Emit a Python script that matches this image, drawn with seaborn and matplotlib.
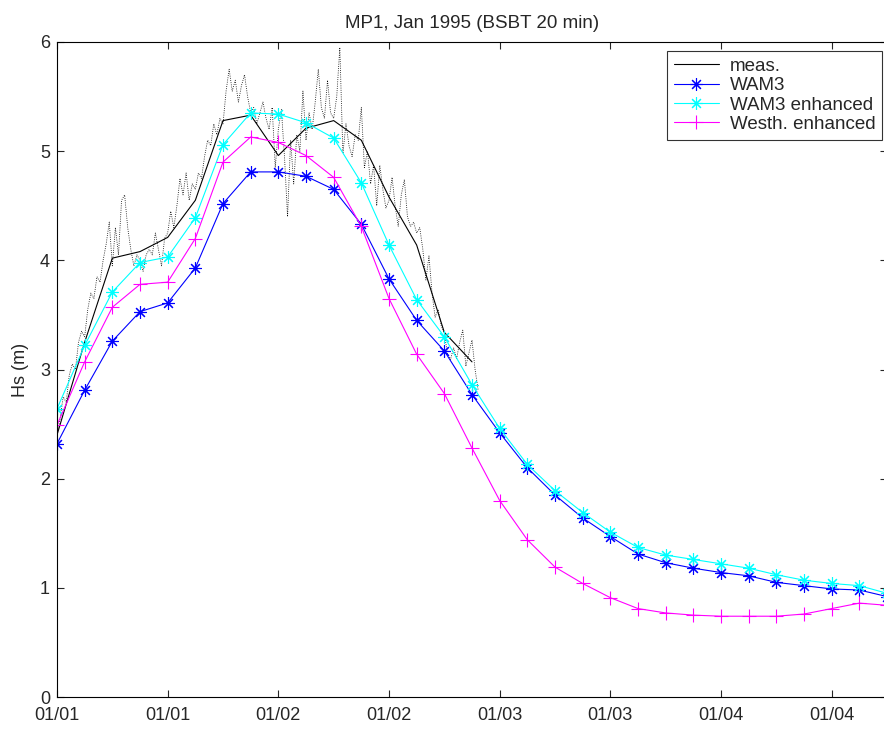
import matplotlib
matplotlib.use('Agg')
import matplotlib.pyplot as plt
import seaborn as sns

# horas desde 01/01 00:00, modelos cada 3 h
horas_modelo = list(range(0, 91, 3))
wam3 = [2.32, 2.81, 3.26, 3.53, 3.61, 3.93, 4.52, 4.81, 4.81, 4.77, 4.65,
        4.33, 3.83, 3.45, 3.17, 2.77, 2.42, 2.10, 1.85, 1.64, 1.47, 1.31,
        1.23, 1.18, 1.14, 1.11, 1.05, 1.02, 0.99, 0.98, 0.92]
wam3_enh = [2.64, 3.22, 3.71, 3.98, 4.03, 4.39, 5.06, 5.35, 5.34, 5.26, 5.12,
            4.71, 4.14, 3.64, 3.30, 2.86, 2.46, 2.13, 1.89, 1.69, 1.51, 1.37,
            1.30, 1.26, 1.22, 1.18, 1.12, 1.07, 1.04, 1.02, 0.95]
westh_enh = [2.49, 3.07, 3.57, 3.78, 3.80, 4.20, 4.90, 5.13, 5.08, 4.96, 4.76,
             4.31, 3.65, 3.14, 2.78, 2.28, 1.80, 1.44, 1.19, 1.04, 0.91, 0.81,
             0.77, 0.75, 0.74, 0.74, 0.74, 0.76, 0.81, 0.86, 0.84]

# medicion promediada cada 3 h
horas_meas = list(range(0, 46, 3))
meas = [2.40, 3.25, 4.02, 4.08, 4.21, 4.55, 5.28, 5.33, 4.96, 5.21, 5.28,
        5.10, 4.58, 4.14, 3.34, 3.07]

# medicion cruda cada 20 min
meas_20min = [2.40, 2.55, 2.75, 2.70, 2.95, 3.05, 3.00, 3.25, 3.35, 3.30,
              3.55, 3.70, 3.65, 3.85, 3.80, 4.00, 4.15, 4.35, 3.95, 4.30,
              4.05, 4.55, 4.60, 4.30, 4.10, 3.95, 4.05, 4.00, 3.90, 4.05,
              4.10, 4.05, 4.25, 4.10, 3.95, 4.20, 4.25, 4.45, 4.30, 4.50,
              4.75, 4.60, 4.80, 4.55, 4.70, 4.65, 4.80, 4.75, 4.95, 5.10,
              5.05, 5.25, 5.15, 5.30, 5.25, 5.55, 5.75, 5.55, 5.65, 5.45,
              5.60, 5.70, 5.50, 5.35, 5.40, 5.25, 5.35, 5.45, 5.30, 5.20,
              5.40, 4.85, 5.20, 5.38, 4.95, 4.40, 5.10, 4.70, 5.15, 5.00,
              5.55, 5.10, 5.35, 5.20, 5.45, 5.75, 5.40, 5.30, 5.65, 5.35,
              5.30, 5.50, 5.95, 4.98, 5.25, 5.05, 4.95, 5.15, 5.10, 5.40,
              4.85, 5.00, 4.70, 4.87, 4.50, 4.87, 4.65, 4.48, 4.55, 4.76,
              4.50, 4.31, 4.60, 4.74, 4.40, 4.31, 4.35, 4.25, 4.30, 4.10,
              3.82, 4.04, 3.70, 3.48, 3.55, 3.40, 3.33, 3.15, 3.09, 3.20,
              3.10, 3.25, 3.36, 3.03, 3.15, 3.27, 3.00, 2.81]
horas_20min = [i / 3 for i in range(len(meas_20min))]

horas_ticks = list(range(0, 85, 12))
etiquetas_x = ['01/01', '01/01', '01/02', '01/02', '01/03', '01/03', '01/04', '01/04']

sns.set_style('ticks')
plt.rcParams['font.family'] = ['Liberation Sans', 'DejaVu Sans']

fig = plt.figure(figsize=(8.84, 7.29), dpi=100)
ax = fig.add_axes([57 / 884, 32 / 729, 830 / 884, 655 / 729])

asterisco = (8, 2, 0)
sns.lineplot(x=horas_20min, y=meas_20min, ax=ax, color='black', lw=0.6,
             linestyle=':', label='_nolegend_')
sns.lineplot(x=horas_meas, y=meas, ax=ax, color='black', lw=0.8, label='meas.')
sns.lineplot(x=horas_modelo, y=wam3, ax=ax, color='#0000ff', lw=0.8,
             marker=asterisco, markersize=9, markeredgewidth=0.8,
             markeredgecolor='#0000ff', label='WAM3')
sns.lineplot(x=horas_modelo, y=wam3_enh, ax=ax, color='#00ffff', lw=0.8,
             marker=asterisco, markersize=9, markeredgewidth=0.8,
             markeredgecolor='#00ffff', label='WAM3 enhanced')
sns.lineplot(x=horas_modelo, y=westh_enh, ax=ax, color='#ff00ff', lw=0.8,
             marker='+', markersize=10, markeredgewidth=0.8,
             markeredgecolor='#ff00ff', label='Westh. enhanced')

ax.set_xlim(0, 90)
ax.set_ylim(0, 6)
ax.set_xticks(horas_ticks)
ax.set_xticklabels(etiquetas_x)
ax.set_yticks(range(0, 7))
ax.tick_params(direction='in', length=5, width=0.8, labelsize=13,
               top=True, right=True)
ax.tick_params(axis='x', pad=7)
ax.tick_params(axis='y', pad=5)
for s in ax.spines.values():
    s.set_linewidth(0.8)
    s.set_color('black')

ax.set_ylabel('Hs (m)', fontsize=13, labelpad=8)
ax.set_xlabel('')
ax.set_title('MP1, Jan 1995 (BSBT 20 min)', fontsize=13.5, pad=10)

leg = ax.legend(loc='upper right', bbox_to_anchor=(0.994, 0.986), borderaxespad=0,
                fontsize=13.5, frameon=True, fancybox=False, handlelength=2.4,
                handletextpad=0.6, labelspacing=0.12, borderpad=0.35)
leg.get_frame().set_edgecolor('black')
leg.get_frame().set_linewidth(0.8)

plt.savefig('out.png', dpi=100)
